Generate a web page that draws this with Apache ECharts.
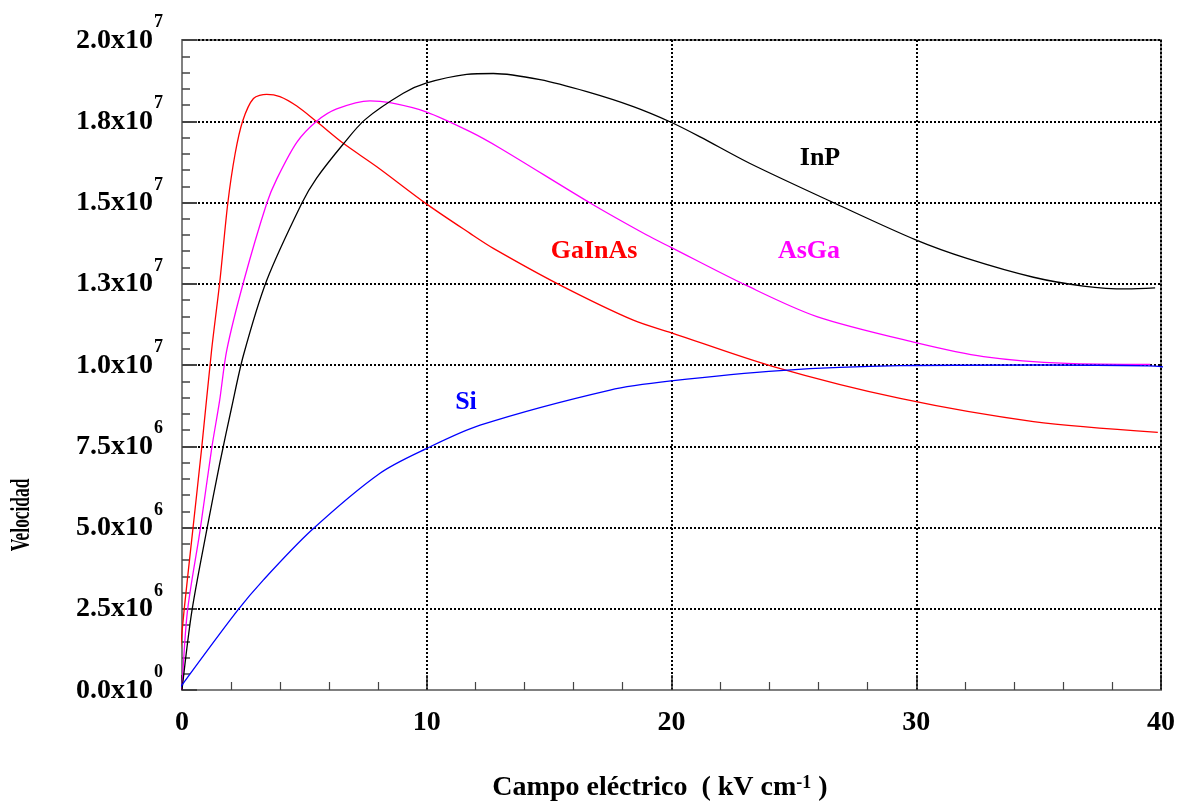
<!DOCTYPE html>
<html>
<head>
<meta charset="utf-8">
<script src="https://cdn.jsdelivr.net/npm/echarts@6/dist/echarts.min.js"></script>
<style>
  html, body { margin: 0; padding: 0; background: #fff; }
  #chart { width: 1181px; height: 805px; }
</style>
</head>
<body>
<div id="chart"></div>
<script>
// campo eléctrico (kV/cm) y velocidad (en unidades de 1e6 cm/s)
const gainasX = [-0.15, 0.08, 0.44, 0.80, 1.21, 1.55, 1.87, 2.17, 2.48, 2.92, 3.46, 4.0, 4.69, 5.5, 6.59, 7.96, 10.0, 11.77, 12.72, 15.45, 18.44, 20.0, 24.16, 29.34, 34.79, 39.87]
const gainasY = [0.56, 2.41, 4.92, 7.42, 10.46, 12.6, 14.97, 16.5, 17.51, 18.2, 18.33, 18.26, 17.97, 17.49, 16.82, 16.1, 14.95, 14.05, 13.59, 12.46, 11.38, 10.99, 9.95, 8.97, 8.26, 7.93]

const asgaX = [0, 0.22, 0.74, 1.21, 1.54, 1.83, 2.53, 3.46, 3.87, 4.69, 5.5, 6.32, 7.68, 8.5, 9.97, 11.77, 13.0, 16.71, 18.99, 19.98, 23.08, 25.94, 29.98, 32.75, 36.15, 39.56]
const asgaY = [0, 2.41, 4.92, 7.42, 8.92, 10.46, 12.6, 14.97, 15.72, 16.85, 17.5, 17.88, 18.13, 18.07, 17.79, 17.18, 16.67, 14.97, 14.0, 13.62, 12.44, 11.49, 10.69, 10.26, 10.05, 10.02]

const inpX = [0, 0.40, 1.01, 1.55, 2.03, 2.51, 3.46, 4.89, 5.5, 6.59, 7.48, 9.04, 9.97, 11.63, 12.72, 14.63, 16.54, 18.44, 19.98, 21.17, 23.21, 26.69, 29.98, 32.07, 34.79, 36.83, 38.6, 39.76]
const inpY = [0, 2.41, 4.92, 7.0, 8.7, 10.3, 12.6, 14.97, 15.75, 16.8, 17.55, 18.36, 18.67, 18.94, 18.97, 18.78, 18.41, 17.95, 17.47, 17.02, 16.2, 14.97, 13.85, 13.28, 12.7, 12.43, 12.34, 12.37]

const siX = [-0.15, 2.23, 3.32, 5.3, 8.09, 9.96, 12.18, 17.49, 19.98, 24.44, 29.34, 35.0, 39.5, 40.45]
const siY = [0, 2.41, 3.38, 4.92, 6.67, 7.42, 8.15, 9.23, 9.51, 9.83, 9.98, 10.0, 9.97, 9.92]

// etiquetas de los ejes
const yTickMant = ['0.0', '2.5', '5.0', '7.5', '1.0', '1.3', '1.5', '1.8', '2.0']
const yTickExp = ['0', '6', '6', '6', '7', '7', '7', '7', '7']
const xTickLabels = ['0', '10', '20', '30', '40']

const zip = (xs, ys) => xs.map((x, i) => [x, ys[i]])
const serif = "'Liberation Serif', 'Times New Roman', serif"

const chart = echarts.init(document.getElementById('chart'))

const lineSeries = (name, xs, ys, color, clip) => ({
  name,
  type: 'line',
  data: zip(xs, ys),
  smooth: 0.3,
  symbol: 'none',
  clip: clip,
  lineStyle: { color, width: 1.3 },
  z: 5,
})

chart.setOption({
  animation: false,
  backgroundColor: '#fff',
  grid: {
    left: 182,
    right: 20,
    top: 40,
    bottom: 115,
    show: true,
    borderColor: '#808080',
    borderWidth: 2,
  },
  xAxis: {
    type: 'value',
    min: 0,
    max: 40,
    interval: 10,
    axisLine: { lineStyle: { color: '#808080', width: 2 } },
    axisTick: { inside: true, length: 15, lineStyle: { color: '#222', width: 1.5 } },
    minorTick: { show: true, splitNumber: 5, length: 8, lineStyle: { color: '#444', width: 1.2 } },
    splitLine: { show: true, lineStyle: { color: '#000', width: 2, type: [2, 2] } },
    axisLabel: {
      margin: 19,
      color: '#000',
      fontFamily: serif,
      fontWeight: 'bold',
      fontSize: 28,
      formatter: (v) => xTickLabels[Math.round(v / 10)],
    },
  },
  yAxis: {
    type: 'value',
    min: 0,
    max: 20,
    interval: 2.5,
    axisLine: { show: true, lineStyle: { color: '#808080', width: 2 } },
    axisTick: { show: true, inside: true, length: 15, lineStyle: { color: '#444', width: 2 } },
    minorTick: { show: true, splitNumber: 5, length: 8, lineStyle: { color: '#444', width: 1.5 } },
    splitLine: { show: true, lineStyle: { color: '#000', width: 2, type: [2, 2] } },
    axisLabel: {
      margin: 19,
      color: '#000',
      padding: [0, 0, 12, 0],
      formatter: (v) => {
        const i = Math.round(v / 2.5)
        return '{m|' + yTickMant[i] + 'x10}{e|' + yTickExp[i] + '}'
      },
      rich: {
        m: { fontFamily: serif, fontWeight: 'bold', fontSize: 28, color: '#000', verticalAlign: 'bottom' },
        e: { fontFamily: serif, fontWeight: 'bold', fontSize: 18, color: '#000', verticalAlign: 'bottom', padding: [0, 0, 23, 1] },
      },
    },
  },
  series: [
    lineSeries('GaInAs', gainasX, gainasY, '#ff0000', false),
    lineSeries('AsGa', asgaX, asgaY, '#ff00ff', true),
    lineSeries('InP', inpX, inpY, '#000000', true),
    lineSeries('Si', siX, siY, '#0000ff', false),
  ],
  graphic: [
    { type: 'text', x: 820, y: 158, style: { text: 'InP', fill: '#000', font: 'bold 26px ' + serif, align: 'center', verticalAlign: 'middle' } },
    { type: 'text', x: 594, y: 251, style: { text: 'GaInAs', fill: '#ff0000', font: 'bold 26px ' + serif, align: 'center', verticalAlign: 'middle' } },
    { type: 'text', x: 809, y: 251, style: { text: 'AsGa', fill: '#ff00ff', font: 'bold 26px ' + serif, align: 'center', verticalAlign: 'middle' } },
    { type: 'text', x: 466, y: 402, style: { text: 'Si', fill: '#0000ff', font: 'bold 26px ' + serif, align: 'center', verticalAlign: 'middle' } },
    {
      type: 'text', x: 22, y: 515, rotation: Math.PI / 2, scaleX: 0.62,
      style: { text: 'Velocidad', fill: '#000', font: 'bold 28px ' + serif, align: 'center', verticalAlign: 'middle' },
    },
    {
      type: 'text', x: 660, y: 788,
      style: {
        text: '{t|Campo eléctrico  ( kV cm}{s|-1}{t| )}',
        align: 'center', verticalAlign: 'middle',
        rich: {
          t: { fontFamily: serif, fontWeight: 'bold', fontSize: 28, fill: '#000', verticalAlign: 'bottom' },
          s: { fontFamily: serif, fontWeight: 'bold', fontSize: 18, fill: '#000', verticalAlign: 'bottom', padding: [0, 0, 10, 0] },
        },
      },
    },
  ],
})

window.addEventListener('resize', () => chart.resize())
</script>
</body>
</html>
